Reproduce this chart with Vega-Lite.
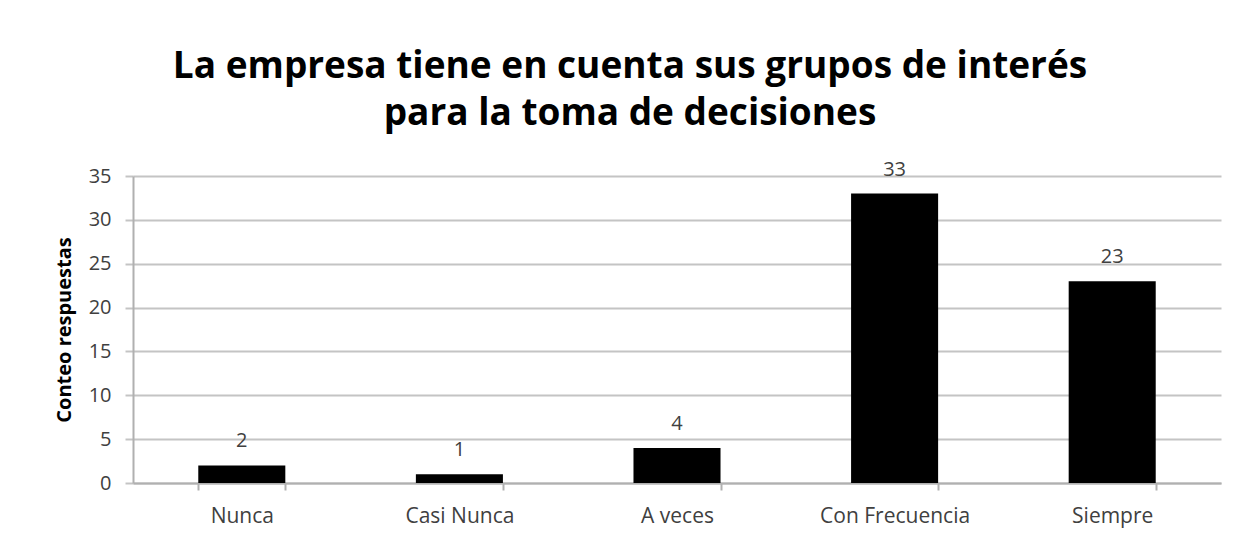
{
  "$schema": "https://vega.github.io/schema/vega-lite/v6.json",
  "width": 1088,
  "height": 307,
  "autosize": {"type": "none"},
  "padding": {"left": 133, "top": 176, "right": 25, "bottom": 60},
  "background": "white",
  "title": {
    "text": ["La empresa tiene en cuenta sus grupos de interés", "para la toma de decisiones"],
    "font": "Open Sans",
    "fontSize": 37,
    "fontWeight": "bold",
    "color": "#000000",
    "anchor": "middle",
    "dx": -47,
    "lineHeight": 47,
    "offset": 27
  },
  "data": {
    "values": [
      {"categoria": "Nunca", "conteo": 2},
      {"categoria": "Casi Nunca", "conteo": 1},
      {"categoria": "A veces", "conteo": 4},
      {"categoria": "Con Frecuencia", "conteo": 33},
      {"categoria": "Siempre", "conteo": 23}
    ]
  },
  "encoding": {
    "x": {
      "field": "categoria",
      "type": "nominal",
      "sort": null,
      "scale": {"paddingInner": 0.6, "paddingOuter": 0.3},
      "axis": {
        "title": null,
        "labelAngle": 0,
        "labelFont": "Open Sans",
        "labelFontSize": 21,
        "labelColor": "#404040",
        "labelPadding": 15,
        "tickBand": "extent",
        "tickSize": 7,
        "tickColor": "#b0b0b0",
        "tickWidth": 2,
        "domainColor": "#b0b0b0",
        "domainWidth": 2
      }
    },
    "y": {
      "field": "conteo",
      "type": "quantitative",
      "scale": {"domain": [0, 35]},
      "axis": {
        "title": "Conteo respuestas",
        "titleFont": "Open Sans",
        "titleFontSize": 20,
        "titleFontWeight": "bold",
        "titleColor": "#000000",
        "titlePadding": 14,
        "values": [0, 5, 10, 15, 20, 25, 30, 35],
        "labelFont": "Open Sans",
        "labelFontSize": 20,
        "labelColor": "#404040",
        "labelPadding": 14,
        "tickSize": 8,
        "tickColor": "#c4c4c4",
        "tickWidth": 2,
        "grid": true,
        "gridColor": "#c4c4c4",
        "gridWidth": 2,
        "domainColor": "#b0b0b0",
        "domainWidth": 2
      }
    }
  },
  "layer": [
    {"mark": {"type": "bar", "color": "#000000"}},
    {
      "mark": {"type": "text", "baseline": "bottom", "dy": -14, "font": "Open Sans", "fontSize": 20, "color": "#404040"},
      "encoding": {"text": {"field": "conteo", "type": "quantitative"}}
    }
  ],
  "config": {"view": {"stroke": null}}
}
